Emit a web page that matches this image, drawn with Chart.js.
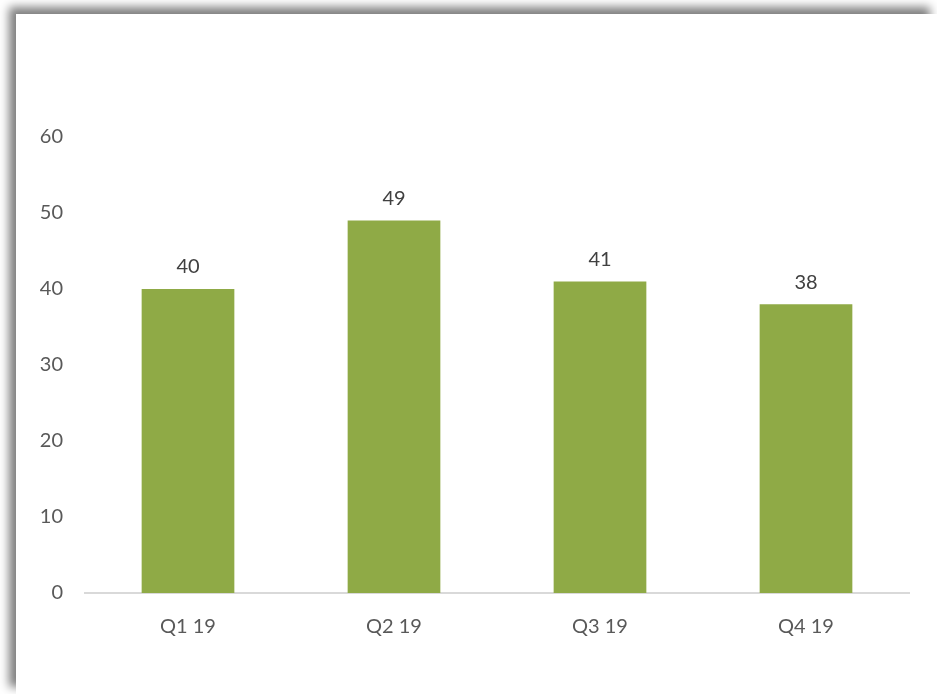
<!DOCTYPE html>
<html>
<head>
<meta charset="utf-8">
<script src="https://cdn.jsdelivr.net/npm/chart.js@4"></script>
<style>
  html, body { margin: 0; padding: 0; background: #fff; }
  body { width: 937px; height: 694px; overflow: hidden; position: relative; }
  .panel {
    position: absolute; left: 16px; top: 14px; width: 921px; height: 680px;
    background: #fff;
    box-shadow: -7px -7px 9px rgba(0,0,0,0.5);
  }
  .panel canvas { display: block; }
</style>
</head>
<body>
<div class="panel"><canvas id="grafico" width="921" height="680"></canvas></div>
<script>
// Trimestres y valores
const trimestres = ['Q1 19', 'Q2 19', 'Q3 19', 'Q4 19'];
const valores = [40, 49, 41, 38];
const ticksY = [0, 10, 20, 30, 40, 50, 60];

const fuente = "Lato, 'Open Sans', sans-serif";

// Etiquetas de valor encima de cada barra
const etiquetasValor = {
    id: 'etiquetasValor',
    afterDatasetsDraw(chart) {
        const ctx = chart.ctx;
        const meta = chart.getDatasetMeta(0);
        ctx.save();
        ctx.font = '20px ' + fuente;
        ctx.fillStyle = '#404040';
        ctx.textAlign = 'center';
        ctx.textBaseline = 'bottom';
        meta.data.forEach((bar, i) => {
            ctx.fillText(String(valores[i]), bar.x, bar.y - 12);
        });
        ctx.restore();
    }
};

new Chart(document.getElementById('grafico'), {
    type: 'bar',
    data: {
        labels: trimestres,
        datasets: [{
            data: valores,
            backgroundColor: '#8faa46',
            barPercentage: 0.45,
            categoryPercentage: 1
        }]
    },
    options: {
        responsive: false,
        animation: false,
        layout: { padding: { top: 123, right: 28, left: 0, bottom: 0 } },
        plugins: {
            legend: { display: false },
            tooltip: { enabled: false }
        },
        scales: {
            x: {
                grid: { display: false, drawTicks: false },
                border: { color: '#d9d9d9', width: 2 },
                ticks: { color: '#595959', font: { family: fuente, size: 20 }, padding: 22 },
                afterFit: (scale) => { scale.height = 101; }
            },
            y: {
                min: 0,
                max: 60,
                afterBuildTicks: (scale) => { scale.ticks = ticksY.map(v => ({ value: v })); },
                grid: { display: false, drawTicks: false },
                border: { display: false },
                ticks: { color: '#595959', font: { family: fuente, size: 20 }, padding: 22 },
                afterFit: (scale) => { scale.width = 69; }
            }
        }
    },
    plugins: [etiquetasValor]
});
</script>
</body>
</html>
